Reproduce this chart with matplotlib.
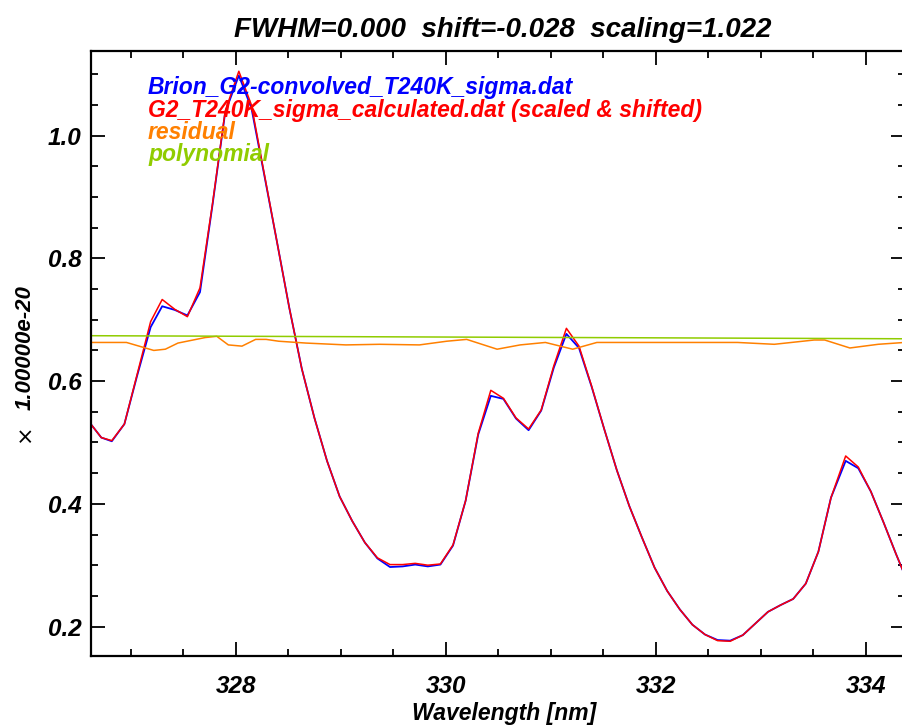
import numpy as np
import matplotlib
matplotlib.use('Agg')
from matplotlib import pyplot as plt
from matplotlib.ticker import MultipleLocator, FormatStrFormatter

# wavelength grid [nm] and the two cross sections (units of 1e-20)
wl = [326.62, 326.72, 326.82, 326.94, 327.06, 327.19, 327.30, 327.42, 327.54, 327.66,
      327.78, 327.90, 328.03, 328.15, 328.27, 328.39, 328.51, 328.63, 328.75, 328.87,
      328.99, 329.11, 329.23, 329.35, 329.47, 329.59, 329.71, 329.83, 329.95, 330.07,
      330.19, 330.31, 330.43, 330.55, 330.67, 330.79, 330.91, 331.03, 331.15, 331.27,
      331.39, 331.51, 331.63, 331.75, 331.87, 331.99, 332.11, 332.23, 332.35, 332.47,
      332.59, 332.71, 332.83, 332.95, 333.07, 333.19, 333.31, 333.43, 333.55, 333.67,
      333.81, 333.93, 334.05, 334.17, 334.29, 334.37]
brion = [0.530, 0.508, 0.502, 0.530, 0.608, 0.688, 0.722, 0.716, 0.707, 0.745,
         0.888, 1.038, 1.098, 1.045, 0.938, 0.830, 0.720, 0.620, 0.540, 0.470,
         0.412, 0.372, 0.337, 0.311, 0.297, 0.298, 0.301, 0.298, 0.301, 0.332,
         0.405, 0.513, 0.576, 0.571, 0.539, 0.520, 0.552, 0.622, 0.677, 0.654,
         0.591, 0.522, 0.455, 0.396, 0.345, 0.296, 0.258, 0.228, 0.203, 0.187,
         0.178, 0.177, 0.186, 0.205, 0.224, 0.235, 0.245, 0.270, 0.322, 0.410,
         0.470, 0.458, 0.420, 0.370, 0.318, 0.285]
calc = [0.530, 0.508, 0.503, 0.530, 0.610, 0.697, 0.733, 0.717, 0.705, 0.752,
        0.890, 1.040, 1.105, 1.050, 0.940, 0.830, 0.720, 0.620, 0.540, 0.470,
        0.412, 0.372, 0.337, 0.312, 0.301, 0.301, 0.303, 0.300, 0.302, 0.333,
        0.405, 0.515, 0.585, 0.572, 0.540, 0.522, 0.553, 0.625, 0.686, 0.657,
        0.592, 0.522, 0.455, 0.396, 0.345, 0.296, 0.258, 0.228, 0.203, 0.187,
        0.177, 0.176, 0.186, 0.205, 0.224, 0.235, 0.245, 0.270, 0.322, 0.410,
        0.478, 0.460, 0.420, 0.370, 0.318, 0.285]

# residual (offset) and polynomial
res_wl = [326.61, 326.96, 327.22, 327.33, 327.45, 327.71, 327.82, 327.93, 328.06, 328.19,
          328.29, 328.41, 328.67, 329.05, 329.37, 329.75, 330.01, 330.20, 330.49, 330.71,
          330.95, 331.21, 331.44, 331.86, 332.78, 333.13, 333.51, 333.61, 333.85, 334.12,
          334.37]
res = [0.663, 0.663, 0.650, 0.652, 0.662, 0.671, 0.673, 0.659, 0.657, 0.668,
       0.668, 0.665, 0.662, 0.659, 0.660, 0.659, 0.665, 0.668, 0.652, 0.659,
       0.663, 0.652, 0.663, 0.663, 0.663, 0.660, 0.667, 0.667, 0.654, 0.660,
       0.663]
poly_wl = [326.62, 334.37]
poly = [0.674, 0.669]

title = 'FWHM=0.000  shift=-0.028  scaling=1.022'
labels = ['Brion_G2-convolved_T240K_sigma.dat',
          'G2_T240K_sigma_calculated.dat (scaled & shifted)',
          'residual', 'polynomial']
colors = ['#0000ff', '#ff0000', '#ff8000', '#90cc00']

plt.rcParams['font.family'] = ['Liberation Sans', 'DejaVu Sans']
plt.rcParams['font.weight'] = 'bold'
plt.rcParams['font.style'] = 'italic'

W, H = 903, 725
fig = plt.figure(figsize=(W/100, H/100), dpi=100)
ax = fig.add_axes([91/W, 1-656/H, (905-91)/W, (656-51)/H])

ax.plot(wl, brion, color=colors[0], lw=1.3)
ax.plot(wl, calc, color=colors[1], lw=1.1)
ax.plot(res_wl, res, color=colors[2], lw=1.1)
ax.plot(poly_wl, poly, color=colors[3], lw=1.1)

ax.set_xlim(326.622, 334.375)
ax.set_ylim(0.152, 1.138)
ax.xaxis.set_major_locator(MultipleLocator(2))
ax.xaxis.set_minor_locator(MultipleLocator(0.5))
ax.yaxis.set_major_locator(MultipleLocator(0.2))
ax.yaxis.set_minor_locator(MultipleLocator(0.05))
ax.yaxis.set_major_formatter(FormatStrFormatter('%.1f'))
ax.tick_params(which='both', direction='in', top=True, right=True, width=1.3,
               labelsize=17.5)
ax.tick_params(which='major', length=10)
ax.tick_params(which='minor', length=5)
ax.tick_params(axis='x', pad=14)
ax.tick_params(axis='y', pad=7)
for s in ax.spines.values():
    s.set_linewidth(1.6)

fig.text(503/W, 1-37/H, title, ha='center', va='baseline', fontsize=20)
fig.text(504/W, 1-720/H, 'Wavelength [nm]', ha='center', va='baseline', fontsize=16.5)
fig.text(25/W, 1-348/H, '1.00000e-20', rotation=90, ha='center', va='center',
         fontsize=16)
fig.text(25/W, 1-433/H, '\u00d7', rotation=90, ha='center', va='center',
         fontsize=16, fontweight='normal', fontstyle='normal', family='DejaVu Sans')

# legend as plain coloured text lines, IDL style
for i, (lab, c) in enumerate(zip(labels, colors)):
    fig.text(148/W, 1-(94+22.5*i)/H, lab, color=c, ha='left', va='baseline', fontsize=16.5)

fig.savefig('out.png', dpi=100)
